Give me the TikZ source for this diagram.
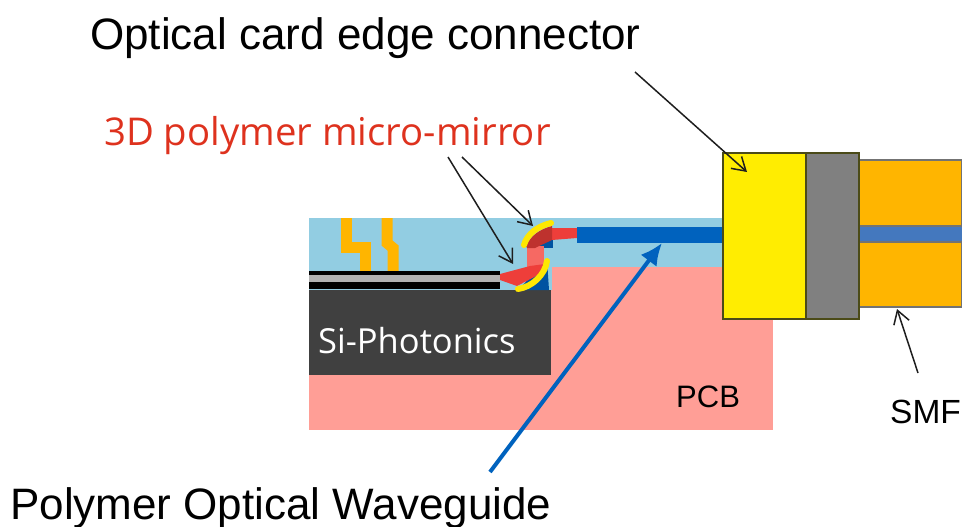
\documentclass[tikz,border=0pt]{standalone}
\usepackage{fontspec}
\setmainfont{Liberation Sans}
\newfontfamily\labfont{Open Sans}
\usetikzlibrary{arrows.meta}
\definecolor{lblue}{RGB}{146,205,226}
\definecolor{pcbpink}{RGB}{255,158,150}
\definecolor{dark}{RGB}{64,64,64}
\definecolor{orng}{RGB}{255,181,0}
\definecolor{wg}{RGB}{0,98,190}
\definecolor{fib}{RGB}{68,120,190}
\definecolor{mred}{RGB}{238,62,58}
\definecolor{lab}{RGB}{222,50,30}
\definecolor{ink}{RGB}{30,30,30}
\tikzset{
  box/.style={anchor=north west,inner sep=0pt,outer sep=0pt,minimum width=#1},
  outl/.style={draw=ink!80!yellow,line width=2pt},
  ptr/.style={draw=ink,line width=1.5pt,-{Straight Barb[length=13pt,width=16pt,line width=1.5pt]}},
  bptr/.style={draw=wg,line width=4pt,-{Latex[length=22pt,width=20pt]}},
  txt/.style={inner sep=0pt,anchor=base west,text=black},
}
\begin{document}
\begin{tikzpicture}[x=1pt,y=-1pt]
\useasboundingbox (0,0) rectangle (962,527);
% substrate
\fill[pcbpink] (309,375) rectangle (773,430);
\fill[pcbpink] (550,267) rectangle (773,376);
\fill[lblue] (309,218) rectangle (722,267);
\fill[lblue] (309,267) rectangle (552,290);
\fill[dark] (309,290) rectangle (551,375);
% electrodes
\draw[orng,line width=11pt] (346,218) -- (346,247) -- (365,247) -- (365,271);
\draw[orng,line width=11pt] (387,218) -- (387,243) -- (393,248) -- (393,271);
% layers
\fill[black] (309,271) rectangle (500,275);
\fill[black!30] (309,275) rectangle (500,282);
\fill[black] (309,282) rectangle (500,289);
% blue corner pieces
\fill[wg!85!black] (547,260) -- (549,290) -- (518,290) -- cycle;
\fill[wg!85!black] (535,236) rectangle (553,248);
% beams
\fill[mred!55!pcbpink] (527,246) rectangle (544,270);
\fill[mred] (500,274) -- (500,280) -- (517,286) -- (540,274) -- (545,264) -- (530,266) -- cycle;
\fill[mred] (550,228) -- (577,228) -- (577,238) -- (552,240) -- cycle;
\fill[mred!80!black] (526,246) .. controls (530,236) and (540,229) .. (552,226) -- (552,240) -- (535,248) -- (527,248) -- cycle;
% mirrors
\draw[yellow!90!orange,line width=6pt,line cap=round] (524,245) .. controls (527,234) and (538,226) .. (551,223);
\draw[yellow!90!orange,line width=6pt,line cap=round] (518,289) .. controls (532,287) and (545,275) .. (547,261);
% waveguide
\fill[wg] (577,227) rectangle (723,243);
% fibre
\node[box=103pt,minimum height=147pt,fill=orng,draw=black!55,line width=1.2pt] (ferrule) at (859,160) {};
\fill[fib] (859,226) rectangle (962,242);
\draw[black!55,line width=1.2pt] (859,226) -- (962,226) (859,242) -- (962,242);
% connector
\node[box=83pt,minimum height=166pt,fill=yellow!95!orange,outl] (conn) at (723,153) {};
\node[box=53pt,minimum height=166pt,fill=black!50,outl] (gray) at (806,153) {};
% texts
\node[txt,font=\fontsize{44}{44}\selectfont] (t1) at (90,50) {Optical card edge connector};
\node[txt,font=\labfont\fontsize{38.3}{38.3}\selectfont,text=lab] (t2) at (104,146) {3D polymer micro-mirror};
\node[txt,font=\labfont\fontsize{34.5}{34.5}\selectfont,text=white] (t3) at (318,353) {Si-Photonics};
\node[txt,font=\fontsize{31}{31}\selectfont] (t4) at (676,407) {PCB};
\node[txt,font=\fontsize{33.5}{33.5}\selectfont] (t5) at (890,423) {SMF};
\node[txt,font=\fontsize{44}{44}\selectfont] (t6) at (10,519) {Polymer Optical Waveguide};
% pointers
\coordinate (a1) at (635,72); \coordinate (a1e) at (747,172);
\coordinate (a2) at (448,157); \coordinate (a2e) at (513,264);
\coordinate (a3) at (462,157); \coordinate (a3e) at (533,226);
\coordinate (a4) at (918,373); \coordinate (a4e) at (897,309);
\coordinate (a5) at (490,472); \coordinate (a5e) at (662,243);
\draw[ptr] (a1) -- (a1e);
\draw[ptr] (a2) -- (a2e);
\draw[ptr] (a3) -- (a3e);
\draw[ptr] (a4) -- (a4e);
\draw[bptr] (a5) -- (a5e);
\end{tikzpicture}
\end{document}
